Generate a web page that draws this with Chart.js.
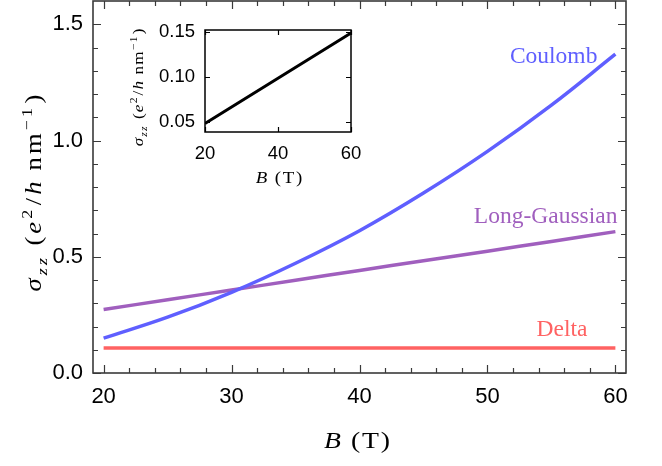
<!DOCTYPE html>
<html>
<head>
<meta charset="utf-8">
<script src="https://cdn.jsdelivr.net/npm/chart.js@4"></script>
<style>
  body { margin: 0; background: #fff; }
  #wrap { position: relative; width: 662px; height: 466px; }
  canvas { position: absolute; }
</style>
</head>
<body>
<div id="wrap">
  <canvas id="main" width="662" height="466" style="left:0;top:0"></canvas>
  <canvas id="inset" width="270" height="185" style="left:100px;top:10px"></canvas>
</div>
<script>
// magnetic field (T) and conductivity for each scattering model
const bField = [20, 25, 30, 35, 40, 45, 50, 55, 60];
const coulomb = [0.150, 0.240, 0.347, 0.472, 0.612, 0.774, 0.953, 1.152, 1.371];
const longGaussian = [0.273, 0.315, 0.357, 0.399, 0.441, 0.483, 0.524, 0.566, 0.608];
const delta = [0.107, 0.107, 0.107, 0.107, 0.107, 0.107, 0.107, 0.107, 0.107];
const seriesNames = ["Coulomb", "Long-Gaussian", "Delta"];

// inset data
const insetB = [20, 40, 60];
const insetSigma = [0.0486, 0.0986, 0.1486];

// tick positions
const xMajor = [20, 30, 40, 50, 60];
const xMinor = [22, 24, 26, 28, 32, 34, 36, 38, 42, 44, 46, 48, 52, 54, 56, 58];
const yMajor = [0, 0.5, 1.0, 1.5];
const yMinor = [0.1, 0.2, 0.3, 0.4, 0.6, 0.7, 0.8, 0.9, 1.1, 1.2, 1.3, 1.4];
const insetXTicks = [20, 40, 60];
const insetYTicks = [0.05, 0.10, 0.15];

const SERIF = "'Liberation Serif', 'Times New Roman', serif";
const SANS = "'Liberation Sans', Arial, sans-serif";

const pts = (xs, ys) => xs.map((x, i) => ({ x: x, y: ys[i] }));

// sigma_zz (e^2/h nm^-1) in pieces: text, style, gap after (in em)
const sigmaTitle = [
  ["σ", "i", 0], ["zz", "sub", 0.35], ["(", "r", 0], ["e", "i", 0], ["2", "sup", 0.05],
  ["/", "r", 0], ["h", "i", 0.3], ["nm", "r", 0], ["−1", "sup", 0.05], [")", "r", 0]
];
const bTitle = [["B", "i", 0.3], ["(T)", "r", 0]];

function segFont(style, size) {
  let s = size, it = style == "i" || style == "sub";
  if (style == "sub" || style == "sup") s = size * 0.68;
  return (it ? "italic " : "") + s.toFixed(1) + "px " + SERIF;
}
function segShift(style, size) {
  if (style == "sub") return size * 0.25;
  if (style == "sup") return -size * 0.42;
  return 0;
}
// draws a little math string centred on x, baseline y.
// Times is narrower than the original font, so widen glyphs a bit, then space letters
function drawRich(ctx, segs, size, width, x, y, color) {
  ctx.save();
  let w = 0, n = 0;
  segs.forEach(s => {
    ctx.font = segFont(s[1], size);
    w += ctx.measureText(s[0]).width + s[2] * size;
    n += s[0].length;
  });
  const sx = width ? Math.min(1.18, width / w) : 1;
  const ls = width ? Math.max(0, (width / sx - w) / n) : 0;
  ctx.translate(x, y);
  ctx.scale(sx, 1);
  let cx = -(w + ls * n) / 2;
  ctx.fillStyle = color;
  ctx.textBaseline = "alphabetic";
  ctx.textAlign = "left";
  segs.forEach(s => {
    ctx.font = segFont(s[1], size);
    for (const ch of s[0]) {
      ctx.fillText(ch, cx + ls / 2, segShift(s[1], size));
      cx += ctx.measureText(ch).width + ls;
    }
    cx += s[2] * size;
  });
  ctx.restore();
}

// frame box with inward ticks on all four sides
function framePlugin(o) {
  return {
    id: "frame",
    afterDraw(chart) {
      const { ctx, chartArea: a, scales } = chart;
      const x = scales.x, y = scales.y;
      ctx.save();
      ctx.strokeStyle = o.color;
      ctx.lineWidth = 1.2;
      const tick = (vals, len, horiz) => vals.forEach(v => {
        ctx.beginPath();
        if (horiz) {
          const p = Math.round(x.getPixelForValue(v)) + 0.5;
          ctx.moveTo(p, a.bottom); ctx.lineTo(p, a.bottom - len);
          ctx.moveTo(p, a.top); ctx.lineTo(p, a.top + len);
        } else {
          const p = Math.round(y.getPixelForValue(v)) + 0.5;
          ctx.moveTo(a.left, p); ctx.lineTo(a.left + len, p);
          ctx.moveTo(a.right, p); ctx.lineTo(a.right - len, p);
        }
        ctx.stroke();
      });
      tick(o.xMajor, o.major, true);
      tick(o.xMinor || [], o.minor, true);
      tick(o.yMajor, o.major, false);
      tick(o.yMinor || [], o.minor, false);
      ctx.lineWidth = o.width;
      ctx.strokeRect(a.left, a.top, a.right - a.left, a.bottom - a.top);
      ctx.restore();
    }
  };
}

function titlePlugin(o) {
  return {
    id: "titles",
    afterDraw(chart) {
      const ctx = chart.ctx;
      drawRich(ctx, bTitle, o.xSize, o.xWidth, o.xPos[0], o.xPos[1], "#000");
      ctx.save();
      ctx.translate(o.yPos[0], o.yPos[1]);
      ctx.rotate(-Math.PI / 2);
      drawRich(ctx, sigmaTitle, o.ySize, o.yWidth, 0, 0, "#000");
      ctx.restore();
    }
  };
}

// series names written next to the end of each curve
const seriesLabels = {
  id: "seriesLabels",
  afterDraw(chart) {
    const ctx = chart.ctx;
    ctx.save();
    ctx.font = "23.5px " + SERIF;
    ctx.textAlign = "right";
    ctx.textBaseline = "alphabetic";
    chart.data.datasets.forEach((ds, i) => {
      const meta = chart.getDatasetMeta(i);
      const last = meta.data[meta.data.length - 1];
      ctx.fillStyle = ds.borderColor;
      ctx.fillText(ds.label, last.x + ds.nameOffset[0], last.y + ds.nameOffset[1]);
    });
    ctx.restore();
  }
};

// keep the plot box where we put it: no extra room for half tick labels
const noPadX = (h) => s => { s.height = h; s.paddingLeft = 0; s.paddingRight = 0; };
const noPadY = (w) => s => { s.width = w; s.paddingTop = 0; s.paddingBottom = 0; };

const blue = "rgb(95,95,255)", purple = "rgb(160,95,190)", red = "rgb(255,98,98)";

new Chart("main", {
  type: "line",
  data: {
    datasets: [
      { label: seriesNames[0], data: pts(bField, coulomb), borderColor: blue, nameOffset: [-18, 9] },
      { label: seriesNames[1], data: pts(bField, longGaussian), borderColor: purple, nameOffset: [2, -9] },
      { label: seriesNames[2], data: pts(bField, delta), borderColor: red, nameOffset: [-28, -12] }
    ]
  },
  options: {
    responsive: false,
    animation: false,
    devicePixelRatio: 1,
    layout: { padding: { top: 1, right: 36, left: 0, bottom: 0 } },
    elements: {
      line: { borderWidth: 3.5, tension: 0.4 },
      point: { radius: 0 }
    },
    scales: {
      x: {
        type: "linear", min: 19.17, max: 60.83,
        afterBuildTicks: s => { s.ticks = xMajor.map(v => ({ value: v })); },
        afterFit: noPadX(93),
        grid: { display: false, drawTicks: false },
        border: { display: false },
        ticks: { autoSkip: false, maxRotation: 0, padding: 11, color: "#000", font: { family: SANS, size: 22 } }
      },
      y: {
        min: 0, max: 1.6,
        afterBuildTicks: s => { s.ticks = yMajor.map(v => ({ value: v })); },
        afterFit: noPadY(93),
        grid: { display: false, drawTicks: false },
        border: { display: false },
        ticks: { padding: 10, color: "#000", font: { family: SANS, size: 22 }, callback: v => v.toFixed(1) }
      }
    },
    plugins: { legend: { display: false }, tooltip: { enabled: false } }
  },
  plugins: [
    framePlugin({ color: "#3a3a3a", width: 1.6, major: 8, minor: 5, xMajor: xMajor, xMinor: xMinor, yMajor: yMajor, yMinor: yMinor }),
    seriesLabels,
    titlePlugin({ xSize: 23.5, xWidth: 68, xPos: [357, 448], ySize: 22.5, yWidth: 200, yPos: [41, 193] })
  ]
});

new Chart("inset", {
  type: "line",
  data: {
    datasets: [{ data: pts(insetB, insetSigma), borderColor: "#000", borderWidth: 3 }]
  },
  options: {
    responsive: false,
    animation: false,
    devicePixelRatio: 1,
    layout: { padding: { top: 20, right: 19, left: 0, bottom: 0 } },
    elements: { point: { radius: 0 } },
    scales: {
      x: {
        type: "linear", min: 20, max: 60,
        afterBuildTicks: s => { s.ticks = insetXTicks.map(v => ({ value: v })); },
        afterFit: noPadX(63),
        grid: { display: false, drawTicks: false },
        border: { display: false },
        ticks: { autoSkip: false, maxRotation: 0, padding: 11, color: "#000", font: { family: SANS, size: 18.5 } }
      },
      y: {
        min: 0.0392, max: 0.152,
        afterBuildTicks: s => { s.ticks = insetYTicks.map(v => ({ value: v })); },
        afterFit: noPadY(105),
        grid: { display: false, drawTicks: false },
        border: { display: false },
        ticks: { padding: 10, color: "#000", font: { family: SANS, size: 18.5 }, callback: v => v.toFixed(2) }
      }
    },
    plugins: { legend: { display: false }, tooltip: { enabled: false } }
  },
  plugins: [
    framePlugin({ color: "#000", width: 1.5, major: 5, minor: 0, xMajor: insetXTicks, yMajor: insetYTicks }),
    titlePlugin({ xSize: 16, xWidth: 48, xPos: [179, 173], ySize: 14.5, yWidth: 119, yPos: [43, 77.5] })
  ]
});
</script>
</body>
</html>
